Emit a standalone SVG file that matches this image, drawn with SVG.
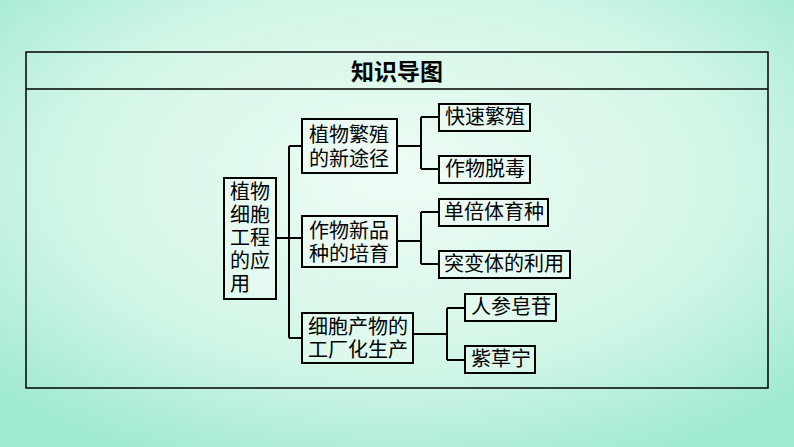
<svg xmlns="http://www.w3.org/2000/svg" width="794" height="447" viewBox="0 0 794 447">
<defs>
<radialGradient id="bg" cx="0.5" cy="0.4" r="0.7">
<stop offset="0" stop-color="#eefcf4"/><stop offset="0.6" stop-color="#d2f6e6"/><stop offset="1" stop-color="#9ee9d2"/>
</radialGradient>
<style>
.b{fill:#fff;fill-opacity:0.25;stroke:#000;stroke-width:2}
.t{font-family:"Noto Sans CJK SC",sans-serif;font-size:20px;fill:#000}
.c{fill:none;stroke:#000;stroke-width:2}
</style>
</defs>
<rect width="794" height="447" fill="url(#bg)"/>
<rect x="26" y="52" width="742" height="336" fill="none" stroke="#000" stroke-width="1.5"/>
<line x1="26" y1="89" x2="768" y2="89" stroke="#000" stroke-width="1.5"/>
<text x="397" y="80" text-anchor="middle" style="font-family:'Noto Sans CJK SC',sans-serif;font-size:23px;font-weight:bold">知识导图</text>
<g id="connectors" class="c">
<path d="M277 238H302M289 146V338M289 146H302M289 338H302"/>
<path d="M397 146H421M421 117V169M421 117H439M421 169H439"/>
<path d="M397 241H421M421 212V264M421 212H439M421 264H439"/>
<path d="M413 334H447M447 308V360M447 308H465M447 360H465"/>
</g>
<g id="root"><rect class="b" x="224" y="178" width="52" height="121"/>
<text class="t" x="230" y="199">植物</text><text class="t" x="230" y="222">细胞</text><text class="t" x="230" y="245">工程</text><text class="t" x="230" y="268">的应</text><text class="t" x="230" y="291">用</text></g>
<g id="m1"><rect class="b" x="302" y="119" width="95" height="54"/><text class="t" x="309" y="142">植物繁殖</text><text class="t" x="309" y="166">的新途径</text></g>
<g id="m2"><rect class="b" x="302" y="216" width="95" height="51"/><text class="t" x="309" y="238">作物新品</text><text class="t" x="309" y="261">种的培育</text></g>
<g id="m3"><rect class="b" x="302" y="313" width="111" height="50"/><text class="t" x="308" y="334">细胞产物的</text><text class="t" x="308" y="357">工厂化生产</text></g>
<g id="l1"><rect class="b" x="439" y="104" width="91" height="27"/><text class="t" x="445" y="124">快速繁殖</text></g>
<g id="l2"><rect class="b" x="439" y="156" width="91" height="27"/><text class="t" x="445" y="176">作物脱毒</text></g>
<g id="l3"><rect class="b" x="439" y="199" width="109" height="27"/><text class="t" x="444" y="219">单倍体育种</text></g>
<g id="l4"><rect class="b" x="439" y="251" width="131" height="27"/><text class="t" x="444" y="271">突变体的利用</text></g>
<g id="l5"><rect class="b" x="465" y="294" width="91" height="27"/><text class="t" x="471" y="314">人参皂苷</text></g>
<g id="l6"><rect class="b" x="465" y="346" width="70" height="27"/><text class="t" x="471" y="366">紫草宁</text></g>
</svg>
